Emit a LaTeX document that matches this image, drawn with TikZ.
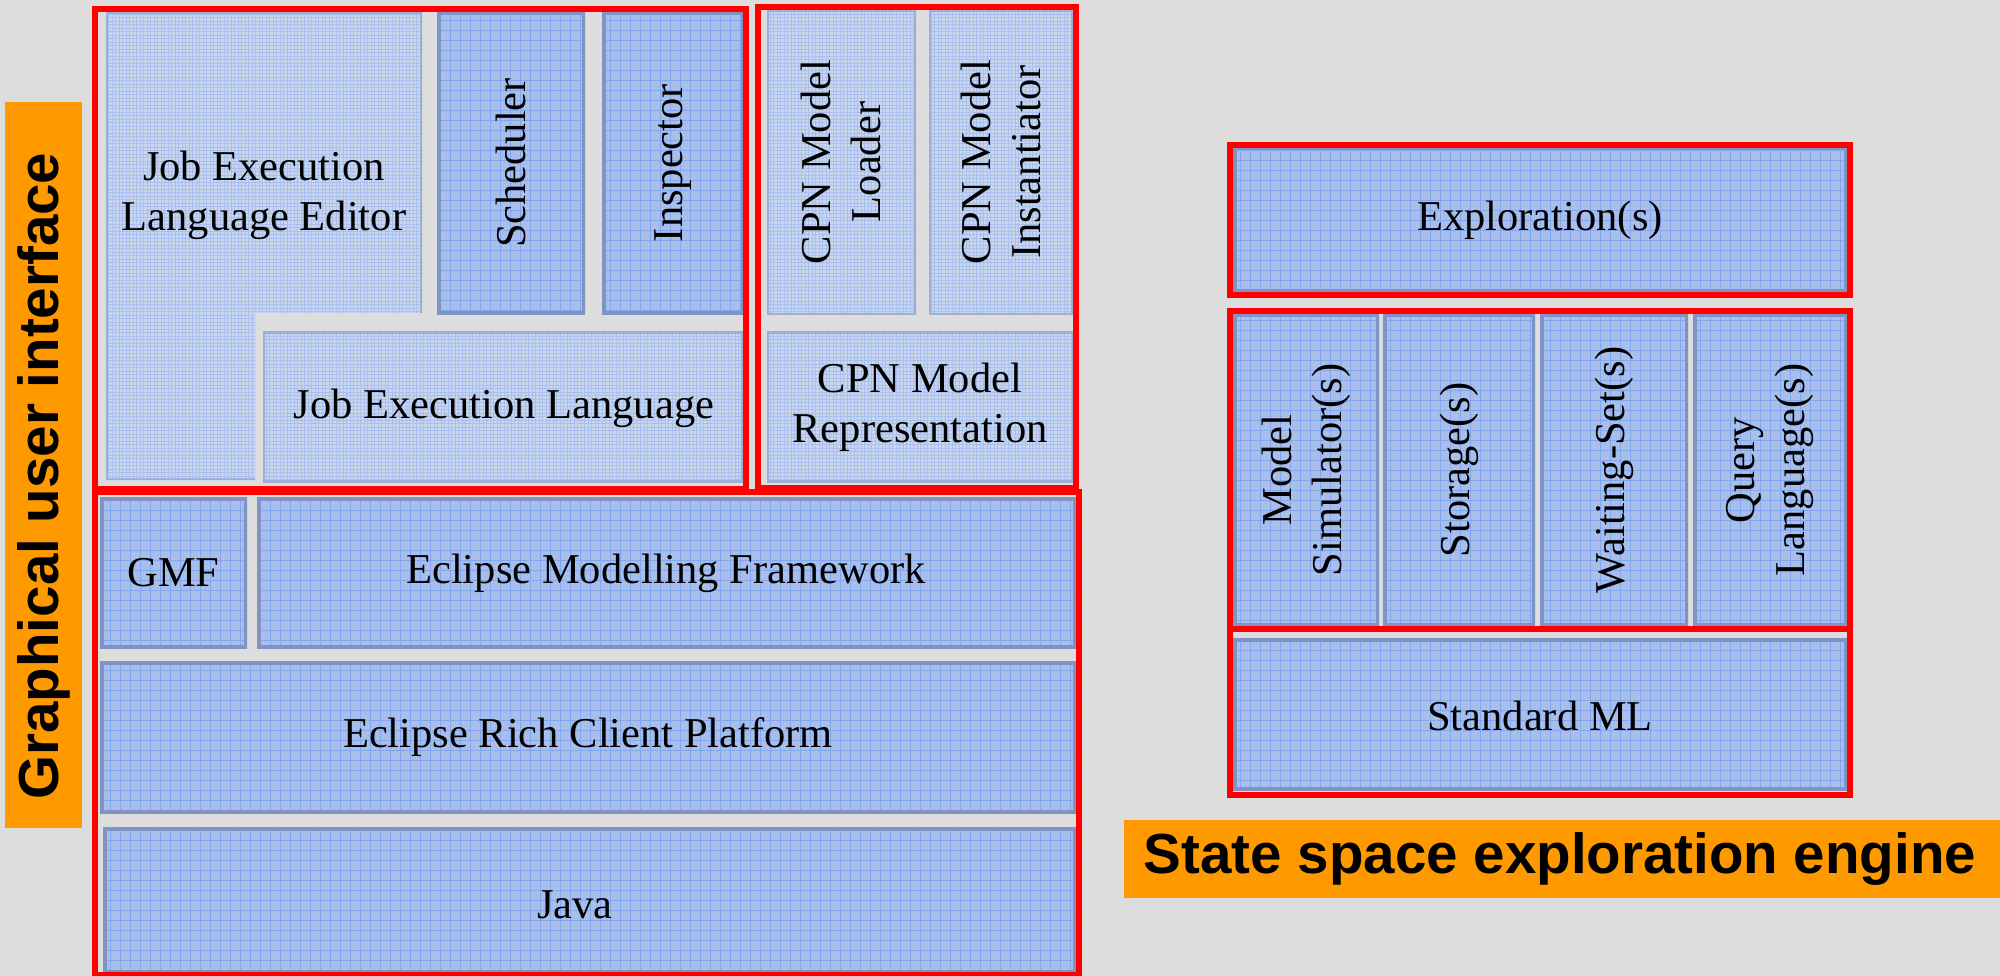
\documentclass[tikz,border=0pt]{standalone}
\usepackage{fontspec}
\setmainfont{Liberation Serif}
\newfontfamily\tagfamily{Liberation Sans}
\definecolor{bgc}{HTML}{DDDDDD}
\definecolor{darkfill}{HTML}{A9BEE8}
\definecolor{darkgrid}{HTML}{82A7EE}
\definecolor{darkedge}{HTML}{7F94C4}
\definecolor{lightfill}{HTML}{C9D6EE}
\definecolor{lightgrid}{HTML}{A9C0EC}
\definecolor{lightedge}{HTML}{9DAFD6}
\definecolor{tagorange}{HTML}{FF9900}
\definecolor{framered}{HTML}{FF0000}
\tikzset{
  darkpanel/.style={fill=darkfill, path picture={
      \draw[darkgrid, line width=0.9pt] (path picture bounding box.south west) grid[step=10pt] (path picture bounding box.north east);
      \draw[darkedge, line width=7pt] (path picture bounding box.south west) rectangle (path picture bounding box.north east);}},
  lightpanel/.style={fill=lightfill, path picture={
      \draw[lightgrid, line width=0.6pt] (path picture bounding box.south west) grid[step=3.5pt] (path picture bounding box.north east);
      \draw[lightedge, line width=4pt] (path picture bounding box.south west) rectangle (path picture bounding box.north east);}},
  frame/.style={draw=framered, line width=6pt},
  lbl/.style={font=\fontsize{42.5}{50}\selectfont, align=center, text=black, inner sep=0pt},
  rlbl/.style={lbl, rotate=90},
  tagbox/.style={fill=tagorange, inner sep=0pt},
  tagtext/.style={inner sep=0pt, font=\tagfamily\bfseries\fontsize{56.5}{60}\selectfont, text=black}
}
\begin{document}
\begin{tikzpicture}[x=1pt, y=-1pt]
\useasboundingbox (0,0) rectangle (2000,976);
\fill[bgc] (0,0) rectangle (2000,976);

% orange tags
\node[tagbox, minimum width=77pt, minimum height=726pt] (guibox) at (43.5,465) {};
\node[tagtext, rotate=90] (gui) at (43.5,476) {Graphical user interface};
\node[tagbox, minimum width=876pt, minimum height=78pt] (sseebox) at (1562,859) {};
\node[tagtext] (ssee) at (1560,859) {State space exploration engine};

% Job execution group
\path[lightpanel] (106,12) -- (422,12) -- (422,313) -- (255,313) -- (255,480) -- (106,480) -- cycle;
\node[lbl] (jele) at (264,195) {Job Execution\\Language Editor};
\path[darkpanel] (437,12) rectangle (585,315);
\node[rlbl] (sched) at (511,163) {Scheduler};
\path[darkpanel] (602,12) rectangle (744,315);
\node[rlbl] (insp) at (673,163) {Inspector};
\path[lightpanel] (263,332) rectangle (743,482);
\node[lbl] (jel) at (504,408) {Job Execution Language};

% CPN group
\path[lightpanel] (767,10) rectangle (916,315);
\node[rlbl] (loader) at (841,162) {CPN Model\\Loader};
\path[lightpanel] (929,10) rectangle (1073,315);
\node[rlbl] (inst) at (1001,162) {CPN Model\\Instantiator};
\path[lightpanel] (767,332) rectangle (1074,482);
\node[lbl] (repr) at (920,407) {CPN Model\\Representation};

% platform group
\path[darkpanel] (100,497) rectangle (247,648);
\node[lbl] (gmf) at (173.5,573) {GMF};
\path[darkpanel] (257,497) rectangle (1076,648);
\node[lbl] (emf) at (666,573) {Eclipse Modelling Framework};
\path[darkpanel] (100,661) rectangle (1076,813);
\node[lbl] (rcp) at (588,737) {Eclipse Rich Client Platform};
\path[darkpanel] (103,827) rectangle (1076,973);
\node[lbl] (java) at (575,905) {Java};

% right side
\path[darkpanel] (1233,147) rectangle (1847,293);
\node[lbl] (expl) at (1540,220) {Exploration(s)};
\path[darkpanel] (1233,314) rectangle (1379,626);
\node[rlbl] (msim) at (1306,470) {Model\\Simulator(s)};
\path[darkpanel] (1383,314) rectangle (1535,626);
\node[rlbl] (stor) at (1459,470) {Storage(s)};
\path[darkpanel] (1540,314) rectangle (1688,626);
\node[rlbl] (wait) at (1614,470) {Waiting-Set(s)};
\path[darkpanel] (1693,314) rectangle (1847,626);
\node[rlbl] (query) at (1770,470) {Query\\Language(s)};
\path[darkpanel] (1233,638) rectangle (1847,790);
\node[lbl] (sml) at (1540,716) {Standard ML};

% red frames
\draw[frame] (95,9) rectangle (746,489);
\draw[frame] (757.5,7) rectangle (1076,488);
\draw[frame] (95,492) rectangle (1079,975);
\draw[frame] (1230,145) rectangle (1850,295.5);
\draw[frame] (1230,311) rectangle (1850,629);
\draw[frame] (1230,629) rectangle (1850,794.5);
\end{tikzpicture}
\end{document}
